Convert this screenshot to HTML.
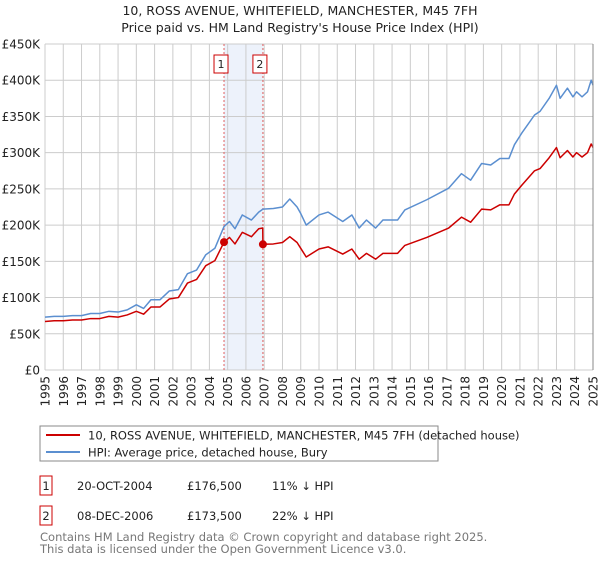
<!DOCTYPE html>
<html><head><meta charset="utf-8"><style>
body{margin:0;background:#fff;font-family:"Liberation Sans","DejaVu Sans",sans-serif;}
svg text{font-family:"DejaVu Sans","Liberation Sans",sans-serif;}
</style></head><body>
<svg id="chart" width="600" height="560" xmlns="http://www.w3.org/2000/svg">
<text x="300" y="15" text-anchor="middle" font-size="12.5" fill="#222">10, ROSS AVENUE, WHITEFIELD, MANCHESTER, M45 7FH</text>
<text x="300" y="32" text-anchor="middle" font-size="12.5" fill="#222">Price paid vs. HM Land Registry's House Price Index (HPI)</text>
<g id="grid"></g>
<g id="marks"></g>
<g id="axes"></g>
<rect x="40" y="426" width="398" height="35" fill="none" stroke="#888"/>
<line x1="46" y1="435" x2="80" y2="435" stroke="#cc0000" stroke-width="2"/>
<text x="88" y="439.5" font-size="11.5" fill="#222">10, ROSS AVENUE, WHITEFIELD, MANCHESTER, M45 7FH (detached house)</text>
<line x1="46" y1="452" x2="80" y2="452" stroke="#5b8fd0" stroke-width="2"/>
<text x="88" y="456.5" font-size="11.5" fill="#222">HPI: Average price, detached house, Bury</text>
<rect x="40" y="476" width="12" height="19" fill="none" stroke="#cc0000"/>
<text x="46" y="490" text-anchor="middle" font-size="11.5" fill="#222">1</text>
<text x="77" y="490" font-size="11.5" fill="#222">20-OCT-2004</text>
<text x="187" y="490" font-size="11.5" fill="#222">£176,500</text>
<text x="272" y="490" font-size="11.5" fill="#222">11% ↓ HPI</text>
<rect x="40" y="506" width="12" height="19" fill="none" stroke="#cc0000"/>
<text x="46" y="520" text-anchor="middle" font-size="11.5" fill="#222">2</text>
<text x="77" y="520" font-size="11.5" fill="#222">08-DEC-2006</text>
<text x="187" y="520" font-size="11.5" fill="#222">£173,500</text>
<text x="272" y="520" font-size="11.5" fill="#222">22% ↓ HPI</text>
<text x="40" y="541" font-size="11.5" fill="#777">Contains HM Land Registry data © Crown copyright and database right 2025.</text>
<text x="40" y="553" font-size="11.5" fill="#777">This data is licensed under the Open Government Licence v3.0.</text>
</svg>
<script>
const hpiYears=[1995.0,1995.5,1996.0,1996.5,1997.0,1997.5,1998.0,1998.5,1999.0,1999.5,2000.0,2000.4,2000.8,2001.3,2001.8,2002.3,2002.8,2003.3,2003.8,2004.3,2004.8,2005.1,2005.4,2005.8,2006.3,2006.7,2006.93,2007.5,2008.0,2008.4,2008.8,2009.0,2009.3,2010.0,2010.5,2011.3,2011.8,2012.2,2012.6,2013.1,2013.5,2014.3,2014.7,2015.9,2017.1,2017.8,2018.3,2018.9,2019.4,2019.9,2020.4,2020.7,2021.1,2021.8,2022.1,2022.6,2023.0,2023.2,2023.6,2023.9,2024.1,2024.4,2024.7,2024.9,2025.0];
const hpiValues=[73,74,74,75,75,78,78,81,80,83,90,85,97,97,109,111,133,138,159,168,198,205,195,214,207,218,222,223,225,236,225,216,200,214,218,205,214,196,207,196,207,207,221,235,251,271,262,285,283,292,292,311,327,352,357,375,393,375,389,377,384,377,384,400,393];
const priceYears=[1995.0,1995.5,1996.0,1996.5,1997.0,1997.5,1998.0,1998.5,1999.0,1999.5,2000.0,2000.4,2000.8,2001.3,2001.8,2002.3,2002.8,2003.3,2003.8,2004.3,2004.8,2005.1,2005.4,2005.8,2006.3,2006.7,2006.92,2006.93,2007.5,2008.0,2008.4,2008.8,2009.0,2009.3,2010.0,2010.5,2011.3,2011.8,2012.2,2012.6,2013.1,2013.5,2014.3,2014.7,2015.9,2017.1,2017.8,2018.3,2018.9,2019.4,2019.9,2020.4,2020.7,2021.1,2021.8,2022.1,2022.6,2023.0,2023.2,2023.6,2023.9,2024.1,2024.4,2024.7,2024.9,2025.0];
const priceValues=[67,68,68,69,69,71,71,74,73,76,81,77,87,87,98,100,120,125,144,151,176.5,183,174,190,184,195,196,173.5,174,176,184,176,168,156,167,170,160,167,153,161,153,161,161,172,183,196,211,204,222,221,228,228,243,255,275,278,293,307,293,303,294,300,294,300,312,307];
const saleYears=[2004.8,2006.93];
const salePrices=[176.5,173.5];
const saleLabels=["1","2"];
const yTicks=[0,50,100,150,200,250,300,350,400,450];
const yTickLabels=["£0","£50K","£100K","£150K","£200K","£250K","£300K","£350K","£400K","£450K"];
const xTicks=[1995,1996,1997,1998,1999,2000,2001,2002,2003,2004,2005,2006,2007,2008,2009,2010,2011,2012,2013,2014,2015,2016,2017,2018,2019,2020,2021,2022,2023,2024,2025];

const L=45,R=593,T=44,B=370;
const xs=y=>L+(y-1995)/30*(R-L);
const ys=v=>B-v/450*(B-T);
const NS="http://www.w3.org/2000/svg";
function mk(parent,tag,attrs){const e=document.createElementNS(NS,tag);for(const k in attrs)e.setAttribute(k,attrs[k]);parent.appendChild(e);return e;}
const grid=document.getElementById('grid'),marks=document.getElementById('marks'),axes=document.getElementById('axes');
const band=mk(grid,'rect',{x:xs(saleYears[0]),y:T,width:xs(saleYears[1])-xs(saleYears[0]),height:B-T,fill:'#edf2fb'});


yTicks.forEach((t,i)=>{
  const g=mk(grid,'line',{x1:L,x2:R,y1:ys(t),y2:ys(t),stroke:'#cccccc','stroke-width':1});
  
  
  const tx=mk(axes,'text',{x:40,y:ys(t)+4.5,'text-anchor':'end','font-size':12,fill:'#222'});
  tx.textContent=yTickLabels[i];
  
  
});
xTicks.forEach(t=>{
  const g=mk(grid,'line',{x1:xs(t),x2:xs(t),y1:T,y2:B,stroke:'#cccccc','stroke-width':1});
  
  
  const x=xs(t)+4.5,y=376;
  const tx=mk(axes,'text',{x:x,y:y,'text-anchor':'end','font-size':12,fill:'#222',transform:'rotate(-90 '+x+' '+y+')'});
  tx.textContent=t;
  
  
});
const edge=mk(axes,'line',{x1:R,x2:R,y1:T,y2:B,stroke:'#888','stroke-width':1});


saleYears.forEach((y,i)=>{
  const l=mk(marks,'line',{x1:xs(y),x2:xs(y),y1:T,y2:B,stroke:'#e06060','stroke-width':1,'stroke-dasharray':'2,2'});
  
  
  const b=mk(marks,'rect',{x:xs(y)-10,y:55,width:14,height:18,fill:'#fff',stroke:'#cc0000'});
  
  
  const t=mk(marks,'text',{x:xs(y)-3,y:68,'text-anchor':'middle','font-size':11,fill:'#222'});
  t.textContent=saleLabels[i];
  
  
});
const hp=mk(marks,'polyline',{points:hpiYears.map((y,i)=>xs(y)+','+ys(hpiValues[i])).join(' '),fill:'none',stroke:'#5b8fd0','stroke-width':1.5,'stroke-linejoin':'round'});


const pp=mk(marks,'polyline',{points:priceYears.map((y,i)=>xs(y)+','+ys(priceValues[i])).join(' '),fill:'none',stroke:'#cc0000','stroke-width':1.5,'stroke-linejoin':'round'});


saleYears.forEach((y,i)=>{
  const c=mk(marks,'circle',{cx:xs(y),cy:ys(salePrices[i]),r:4,fill:'#cc0000'});
  
  
});
</script>
</body></html>
